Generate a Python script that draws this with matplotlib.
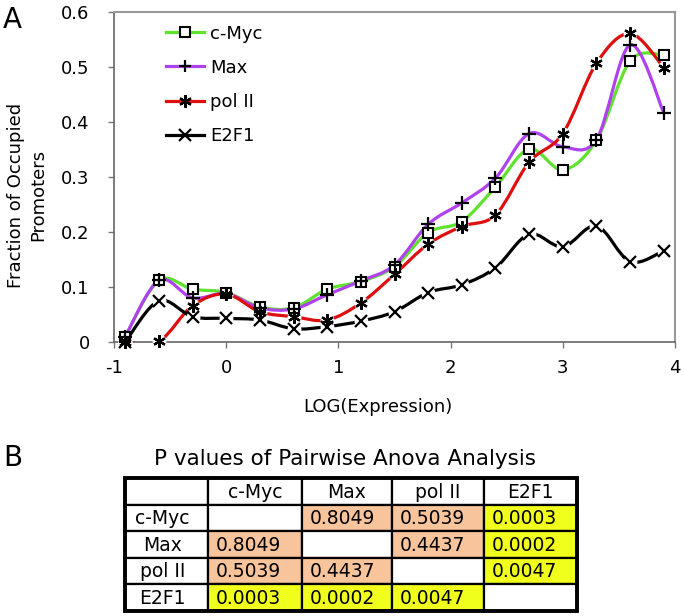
import matplotlib
matplotlib.use("Agg")
import matplotlib.pyplot as plt
from matplotlib.path import Path
from matplotlib.patches import PathPatch, Rectangle
from matplotlib.lines import Line2D

plt.rcParams['font.family'] = ['DejaVu Sans']
plt.rcParams['axes.unicode_minus'] = False

# data
log_expr = [-0.9, -0.6, -0.3, 0.0, 0.3, 0.6, 0.9, 1.2, 1.5, 1.8, 2.1, 2.4, 2.7, 3.0, 3.3, 3.6, 3.9]
cmyc = [0.010, 0.112, 0.096, 0.090, 0.064, 0.062, 0.096, 0.110, 0.137, 0.199, 0.219, 0.282, 0.351, 0.313, 0.367, 0.511, 0.522]
max_ = [0.010, 0.112, 0.080, 0.088, 0.062, 0.060, 0.086, 0.111, 0.140, 0.214, 0.253, 0.298, 0.379, 0.355, 0.368, 0.540, 0.417]
pol2 = [0.000, 0.001, 0.066, 0.087, 0.055, 0.046, 0.040, 0.071, 0.123, 0.178, 0.210, 0.231, 0.327, 0.379, 0.507, 0.561, 0.499]
e2f1 = [0.000, 0.075, 0.046, 0.043, 0.040, 0.024, 0.028, 0.038, 0.055, 0.090, 0.104, 0.135, 0.196, 0.173, 0.211, 0.146, 0.166]

series_names = ['c-Myc', 'Max', 'pol II', 'E2F1']
series_vals = [cmyc, max_, pol2, e2f1]
series_cols = ['#5FE22E', '#B042EE', '#DD0F0F', '#000000']
series_mark = ['s', '+', (6, 2, 0), 'x']

# table of p values (pairwise ANOVA)
tbl_labels = ['c-Myc', 'Max', 'pol II', 'E2F1']
pvals = [
    [None, 0.8049, 0.5039, 0.0003],
    [0.8049, None, 0.4437, 0.0002],
    [0.5039, 0.4437, None, 0.0047],
    [0.0003, 0.0002, 0.0047, None],
]


def smooth_path(xs, ys):
    # Excel-like smoothed line as cubic bezier segments
    pts = list(zip(xs, ys))
    n = len(pts)
    verts = [pts[0]]
    codes = [Path.MOVETO]
    for i in range(n - 1):
        p0 = pts[i - 1] if i > 0 else pts[i]
        p1 = pts[i]
        p2 = pts[i + 1]
        p3 = pts[i + 2] if i + 2 < n else pts[i + 1]
        c1 = (p1[0] + (p2[0] - p0[0]) / 6, p1[1] + (p2[1] - p0[1]) / 6)
        c2 = (p2[0] - (p3[0] - p1[0]) / 6, p2[1] - (p3[1] - p1[1]) / 6)
        verts += [c1, c2, p2]
        codes += [Path.CURVE4] * 3
    return Path(verts, codes)


fig = plt.figure(figsize=(6.84, 6.16), dpi=100)
W, H = 684, 616
ax = fig.add_axes([114 / W, 1 - 342 / H, 561 / W, 330 / H])

for i, (name, vals, col, mk) in enumerate(zip(series_names, series_vals, series_cols, series_mark)):
    patch = PathPatch(smooth_path(log_expr, vals), fill=False, edgecolor=col, lw=2.3,
                      zorder=2 + i, capstyle='round')
    ax.add_patch(patch)
    if name in ('pol II', 'E2F1'):
        ax.plot(log_expr, vals, 'o', ms=9, color='white', zorder=2.5 + i, clip_on=False)

for i, (vals, mk) in enumerate(zip(series_vals, series_mark)):
    if mk == 's':
        ax.plot(log_expr, vals, ls='none', marker='s', ms=7, mfc='white', mec='black',
                mew=1.5, zorder=10, clip_on=False)
    else:
        ax.plot(log_expr, vals, ls='none', marker=mk, ms=9 if mk != '+' else 10,
                color='black', mew=1.6, zorder=10, clip_on=False)

ax.set_xlim(-1, 4)
ax.set_ylim(0, 0.6)
ax.set_xticks([-1, 0, 1, 2, 3, 4])
ax.set_xticklabels(['-1', '0', '1', '2', '3', '4'])
ax.set_yticks([0, 0.1, 0.2, 0.3, 0.4, 0.5, 0.6])
ax.set_yticklabels(['0', '0.1', '0.2', '0.3', '0.4', '0.5', '0.6'])
ax.tick_params(axis='y', direction='out', length=4.5, width=1, color='#777777', pad=13, labelsize=13)
ax.tick_params(axis='x', direction='out', length=4.5, width=1, color='#777777', pad=8, labelsize=13)
for s in ['left', 'bottom']:
    ax.spines[s].set_color('#666666')
    ax.spines[s].set_linewidth(1.2)
for s in ['top', 'right']:
    ax.spines[s].set_color('#999999')
    ax.spines[s].set_linewidth(1.5)

handles = []
for name, col, mk in zip(series_names, series_cols, series_mark):
    if mk == 's':
        h = Line2D([], [], color=col, lw=2.3, marker='s', ms=7, mfc='white', mec='black', mew=1.5)
    else:
        h = Line2D([], [], color=col, lw=2.3, marker=mk, ms=9, mfc='black', mec='black', mew=1.6)
    handles.append(h)
ax.legend(handles, series_names, loc='upper left', bbox_to_anchor=(0.092, 0.962),
          frameon=False, fontsize=13, handlelength=2.1, handletextpad=0.35,
          labelspacing=0.9, borderpad=0, borderaxespad=0)

fig.text(27 / W, 1 - 195 / H, 'Fraction of Occupied\nPromoters', rotation=90,
         ha='center', va='center', multialignment='center', fontsize=13, linespacing=1.3)
fig.text(378 / W, 1 - 407 / H, 'LOG(Expression)', ha='center', va='center', fontsize=13)
fig.text(3 / W, 1 - 28 / H, 'A', fontsize=20, va='baseline')
fig.text(3 / W, 1 - 466 / H, 'B', fontsize=20, va='baseline')
fig.text(344.5 / W, 1 - 465 / H, 'P values of Pairwise Anova Analysis', ha='center',
         va='baseline', fontsize=15.5)

# table B
col_edges = [125, 208, 302, 392, 484, 577]
tbl_top, row_h = 478, 26.5
tax = fig.add_axes([0, 0, 1, 1])
tax.set_xlim(0, W)
tax.set_ylim(H, 0)
tax.axis('off')

n = len(tbl_labels)
for r in range(n + 1):
    y0 = tbl_top + r * row_h
    for c in range(n + 1):
        x0, x1 = col_edges[c], col_edges[c + 1]
        face = 'white'
        txt, ha, tx = '', 'center', (x0 + x1) / 2
        if r == 0 and c > 0:
            txt = tbl_labels[c - 1]
        elif c == 0 and r > 0:
            txt = tbl_labels[r - 1]
            tx = (x0 + x1) / 2 - 4
        elif r > 0 and c > 0:
            p = pvals[r - 1][c - 1]
            if p is not None:
                face = '#F1FF1C' if p < 0.01 else '#F8C49C'
                txt = '%.4f' % p
                ha, tx = 'left', x0 + 8
        tax.add_patch(Rectangle((x0, y0), x1 - x0, row_h, facecolor=face,
                                edgecolor='black', lw=1.6))
        if txt:
            tax.text(tx, y0 + row_h / 2 + 1, txt, ha=ha, va='center', fontsize=13.5)

tax.add_patch(Rectangle((col_edges[0], tbl_top), col_edges[-1] - col_edges[0],
                        row_h * (n + 1), fill=False, edgecolor='black', lw=2.8))

fig.savefig('out.png', dpi=100)
